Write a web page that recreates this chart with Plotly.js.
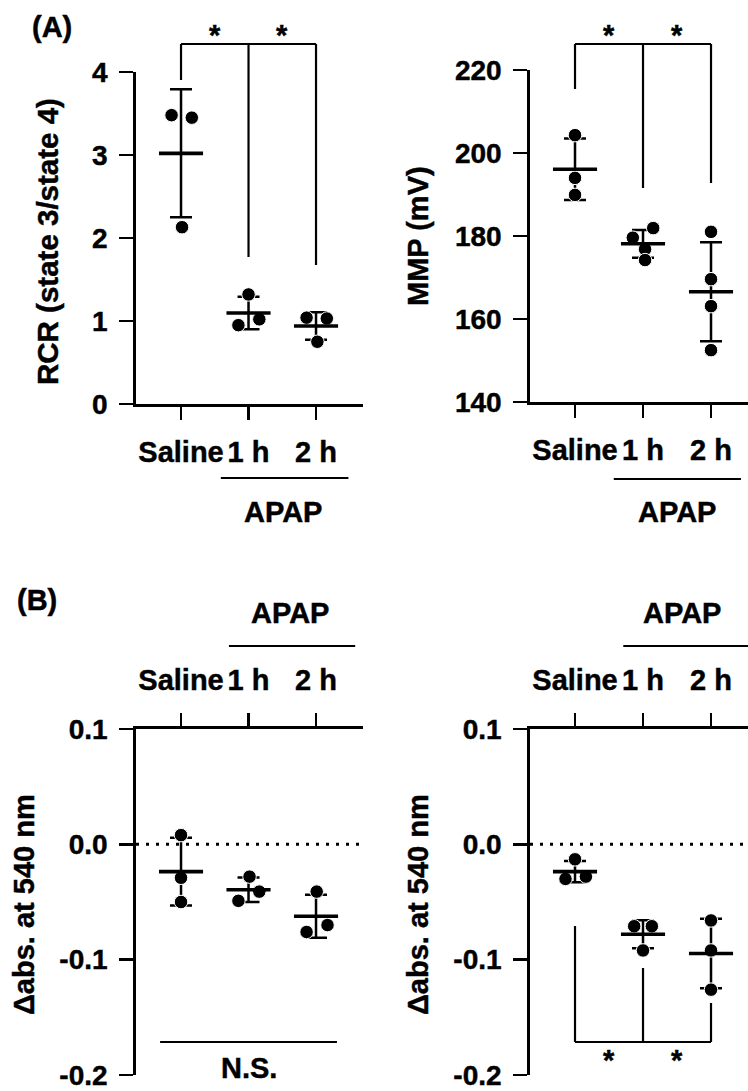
<!DOCTYPE html>
<html><head><meta charset="utf-8">
<script src="https://cdn.plot.ly/plotly-3.0.1.min.js"></script>
<style>html,body{margin:0;padding:0;background:#fff}#chart{width:748px;height:1091px}
#chart svg text{stroke:#000;stroke-width:0.45px}</style>
</head><body><div id="chart"></div>
<script>
const W = 748, H = 1091;

// ---------- data ----------
const groups = ['Saline', '1 h', '2 h'];

const rcrSaline = [3.48, 3.45, 2.13];
const rcrAPAP1h = [1.32, 0.95, 1.02];
const rcrAPAP2h = [1.04, 1.03, 0.75];

const mmpSaline = [204.3, 194.0, 189.9];
const mmpAPAP1h = [179.6, 181.9, 176.8, 174.2];
const mmpAPAP2h = [181.0, 169.6, 163.1, 152.5];

const absLeftSaline = [0.008, -0.029, -0.050];
const absLeftAPAP1h = [-0.028, -0.049, -0.041];
const absLeftAPAP2h = [-0.041, -0.076, -0.070];

const absRightSaline = [-0.013, -0.030, -0.028];
const absRightAPAP1h = [-0.071, -0.071, -0.092];
const absRightAPAP2h = [-0.066, -0.092, -0.126];

const rcrTicks = [0, 1, 2, 3, 4];
const mmpTicks = [140, 160, 180, 200, 220];
const absTickVals = [-0.2, -0.1, 0, 0.1];
const absTickText = ['-0.2', '-0.1', '0.0', '0.1'];

// horizontal scatter offsets of the dots (category units)
const jitRcr  = [[-0.14, 0.16, 0.015], [0, -0.15, 0.16], [-0.14, 0.16, 0.02]];
const jitMmp  = [[0, 0, 0], [-0.15, 0.15, 0.03, 0.03], [0, 0, 0, 0]];
const jitAbsL = [[0, 0, 0], [0.015, -0.15, 0.16], [0.01, -0.14, 0.17]];
const jitAbsR = [[0, -0.14, 0.16], [-0.13, 0.13, 0], [0, 0, 0]];

// ---------- helpers ----------
const FAM = '"Liberation Sans", Arial, Helvetica, sans-serif';
const fnt = s => ({family: FAM, size: s, color: '#000', weight: 'bold'});
const py = p => 1 - p / H;
const mean = a => a.reduce((s, v) => s + v, 0) / a.length;
const sd = a => { const m = mean(a); return Math.sqrt(a.reduce((s, v) => s + (v - m) * (v - m), 0) / (a.length - 1)); };

function panelTraces(sets, jit, xa, ya) {
  const xs = [], ys = [];
  sets.forEach((arr, i) => arr.forEach((v, j) => { xs.push(i + jit[i][j]); ys.push(v); }));
  const idx = sets.map((_, i) => i);
  return [
    { type: 'scatter', mode: 'markers', xaxis: xa, yaxis: ya, x: idx, y: sets.map(mean),
      marker: {size: 1, color: 'rgba(0,0,0,0)'},
      error_y: {type: 'data', array: sets.map(sd), visible: true, color: '#000', thickness: 2.5, width: 11},
      hoverinfo: 'skip' },
    { type: 'scatter', mode: 'markers', xaxis: xa, yaxis: ya, x: xs, y: ys,
      marker: {symbol: 'circle', size: 13.5, color: '#000', line: {color: '#fff', width: 1}} },
    { type: 'scatter', mode: 'markers', xaxis: xa, yaxis: ya, x: idx, y: sets.map(mean),
      marker: {symbol: 'line-ew', size: 31.5, color: '#000', line: {color: '#000', width: 3.6}} }
  ];
}

const data = [].concat(
  panelTraces([rcrSaline, rcrAPAP1h, rcrAPAP2h], jitRcr, 'x', 'y'),
  panelTraces([mmpSaline, mmpAPAP1h, mmpAPAP2h], jitMmp, 'x2', 'y2'),
  panelTraces([absLeftSaline, absLeftAPAP1h, absLeftAPAP2h], jitAbsL, 'x3', 'y3'),
  panelTraces([absRightSaline, absRightAPAP1h, absRightAPAP2h], jitAbsR, 'x4', 'y4')
);

const common = {showline: true, linecolor: '#000', linewidth: 2.8, ticks: 'outside', tickcolor: '#000',
  tickwidth: 2.6, showgrid: false, zeroline: false, fixedrange: true};
const catAx = Object.assign({}, common, {type: 'linear', tickvals: [0, 1, 2], ticktext: groups,
  ticklen: 13, tickfont: fnt(29)});
const valAx = Object.assign({}, common, {type: 'linear', ticklen: 14, tickfont: fnt(28), ticklabelstandoff: 6});

const xL = [136 / W, 363 / W], xR = [530 / W, 1];
const rL = [-0.667, 2.696], rR = [-0.662, 2.544];

const layout = {
  width: W, height: H, margin: {l: 0, r: 0, t: 0, b: 0},
  paper_bgcolor: '#fff', plot_bgcolor: 'rgba(0,0,0,0)', showlegend: false,
  font: fnt(28),
  xaxis:  Object.assign({}, catAx, {domain: xL, range: rL, anchor: 'y', side: 'bottom', ticklabelstandoff: 7}),
  yaxis:  Object.assign({}, valAx, {domain: [py(404), py(72)], range: [0, 4], anchor: 'x', tickvals: rcrTicks}),
  xaxis2: Object.assign({}, catAx, {domain: xR, range: rR, anchor: 'y2', side: 'bottom', ticklabelstandoff: 7}),
  yaxis2: Object.assign({}, valAx, {domain: [py(402), py(70)], range: [140, 220], anchor: 'x2', tickvals: mmpTicks}),
  xaxis3: Object.assign({}, catAx, {domain: xL, range: rL, anchor: 'y3', side: 'top', ticklabelstandoff: 12}),
  yaxis3: Object.assign({}, valAx, {domain: [py(1075), py(729)], range: [-0.2, 0.1], anchor: 'x3', tickvals: absTickVals, ticktext: absTickText}),
  xaxis4: Object.assign({}, catAx, {domain: xR, range: rR, anchor: 'y4', side: 'top', ticklabelstandoff: 12}),
  yaxis4: Object.assign({}, valAx, {domain: [py(1075), py(729)], range: [-0.2, 0.1], anchor: 'x4', tickvals: absTickVals, ticktext: absTickText}),
  shapes: [],
  annotations: []
};

const S = layout.shapes, A = layout.annotations;
function seg(xr, x0, x1, y0, y1, w) {
  S.push({type: 'line', xref: xr, yref: 'paper', x0: x0, x1: x1, y0: py(y0), y1: py(y1), line: {color: '#000', width: w || 2.2}});
}
function txt(text, xr, x, y, size, opts) {
  A.push(Object.assign({text: text, xref: xr, yref: 'paper', x: x, y: py(y), showarrow: false,
    xanchor: 'center', yanchor: 'middle', font: fnt(size)}, opts || {}));
}

// panel A left: brackets
seg('x', 0, 2, 44, 44); seg('x', 0, 0, 44, 80); seg('x', 1, 1, 44, 257); seg('x', 2, 2, 44, 265);
txt('*', 'x', 0.5, 35, 29); txt('*', 'x', 1.5, 35, 29);
seg('x', 0.59, 2.48, 478, 478);
txt('APAP', 'x', 1.51, 512, 29);
// panel A right
seg('x2', 0, 2, 44, 44); seg('x2', 0, 0, 44, 89); seg('x2', 1, 1, 44, 188); seg('x2', 2, 2, 44, 183);
txt('*', 'x2', 0.5, 35, 29); txt('*', 'x2', 1.5, 35, 29);
seg('x2', 0.57, 2.44, 479, 479);
txt('APAP', 'x2', 1.5, 512, 29);
// panel B left
seg('x3', 0.71, 2.58, 646, 646);
txt('APAP', 'x3', 1.61, 613, 29);
S.push({type: 'line', xref: 'x3', yref: 'y3', x0: rL[0], x1: rL[1], y0: 0, y1: 0, line: {color: '#000', width: 3, dash: '3px,7px'}});
seg('x3', -0.31, 2.31, 1042, 1042);
txt('N.S.', 'x3', 1.0, 1068, 29);
// panel B right
seg('x4', 0.71, 2.6, 646, 646);
txt('APAP', 'x4', 1.57, 613, 29);
S.push({type: 'line', xref: 'x4', yref: 'y4', x0: rR[0], x1: rR[1], y0: 0, y1: 0, line: {color: '#000', width: 3, dash: '3px,7px'}});
seg('x4', 0, 2, 1042, 1042); seg('x4', 0, 0, 926, 1042); seg('x4', 1, 1, 968, 1042); seg('x4', 2, 2, 1003, 1042);
txt('*', 'x4', 0.5, 1060, 29); txt('*', 'x4', 1.5, 1060, 29);

// panel letters and y titles
txt('(A)', 'paper', 52 / W, 27, 29);
txt('(B)', 'paper', 37 / W, 600, 29);
txt('RCR (state 3/state 4)', 'paper', 47 / W, 242, 29.5, {textangle: -90});
txt('MMP (mV)', 'paper', 418 / W, 236, 29, {textangle: -90});
txt('\u0394abs. at 540 nm', 'paper', 24 / W, 905, 29, {textangle: -90});
txt('\u0394abs. at 540 nm', 'paper', 418 / W, 905, 29, {textangle: -90});

Plotly.newPlot('chart', data, layout, {staticPlot: true, displayModeBar: false});
</script>
</body></html>
